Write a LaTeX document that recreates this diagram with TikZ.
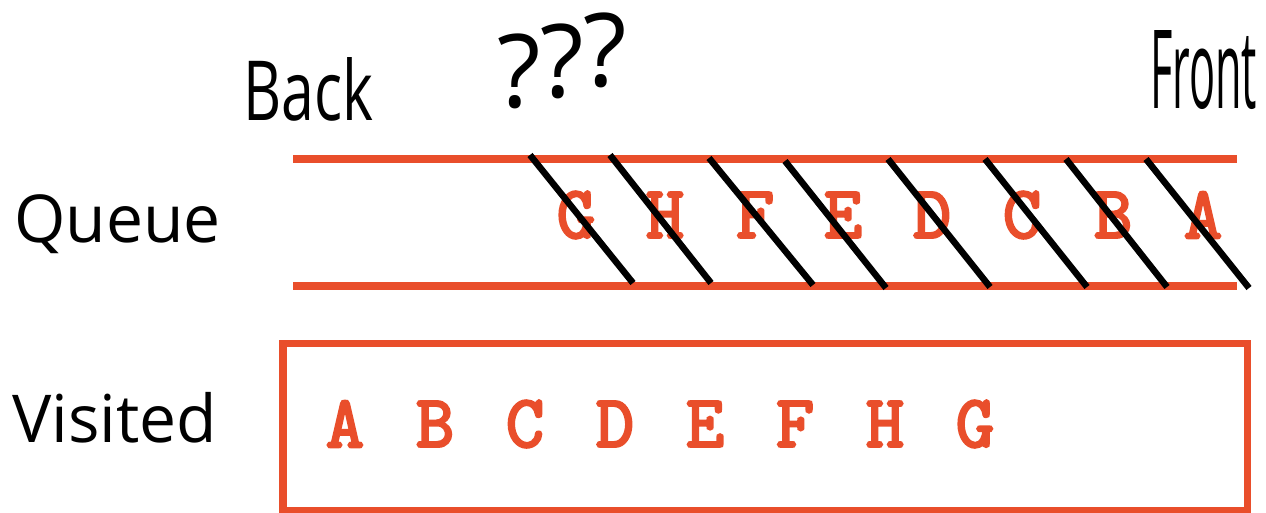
\documentclass[tikz,border=0pt]{standalone}
\usepackage{fontspec}
\setmainfont{Open Sans}
\newfontfamily\slabfont[FakeBold=3.5]{Latin Modern Mono}
\definecolor{qred}{HTML}{E94E2B}
\begin{document}
\begin{tikzpicture}[x=1pt,y=-1pt,
  redline/.style={draw=qred,line width=7.5pt},
  slash/.style={draw=black,line width=6.5pt},
  letter/.style={inner sep=0pt,text=qred,font=\slabfont\fontsize{74}{74}\selectfont},
  label/.style={inner sep=0pt,anchor=base west,font=\fontsize{66}{66}\selectfont},
  hand/.style={inner sep=0pt,anchor=north west,font=\fontsize{60}{60}\selectfont}]
\useasboundingbox (0,0) rectangle (1266,512);
\begin{scope}
\clip (0,0) rectangle (1266,512);
% labels
\node[label] (queue) at (14,242) {Queue};
\node[label] (visited) at (12,442) {Visited};
% handwritten labels
\node[hand] (back) at (243,57) {\resizebox{130pt}{63pt}{Back}};
\node[hand] (q) at (497,13) {\resizebox{130pt}{94pt}{?\raisebox{6pt}{?}\raisebox{12pt}{?}}};
\node[hand] (front) at (1150,30) {\resizebox{107pt}{78pt}{Front}};
% queue lines
\coordinate (t1) at (293,159);
\coordinate (t2) at (1237,159);
\coordinate (b1) at (293,286);
\coordinate (b2) at (1237,286);
\draw[redline] (t1) -- (t2);
\draw[redline] (b1) -- (b2);
% queue letters
\foreach \l/\x [count=\i] in {G/576,H/665,F/755,E/843,D/932,C/1022,B/1113,A/1203}
  \node[letter] (q\i) at (\x,215) {\l};
% slashes
\foreach \xa/\ya/\xb/\yb [count=\i] in {530/155/633/283, 610/155/711/283, 709/158/813/285, 785/161/886/288, 888/159/990/287, 985/159/1087/287, 1066/159/1167/287, 1146/159/1249/288}{
  \coordinate (sa\i) at (\xa,\ya);
  \coordinate (sb\i) at (\xb,\yb);
  \draw[slash] (sa\i) -- (sb\i);
}
% visited box
\node[draw=qred,line width=7.5pt,inner sep=0pt,outer sep=0pt,minimum width=964.5pt,minimum height=167pt,anchor=north west] (box) at (283,343.5) {};
\foreach \l/\x [count=\i] in {A/345,B/435,C/525,D/615,E/705,F/795,H/885,G/975}
  \node[letter] (v\i) at (\x,424) {\l};
\end{scope}
\end{tikzpicture}
\end{document}
